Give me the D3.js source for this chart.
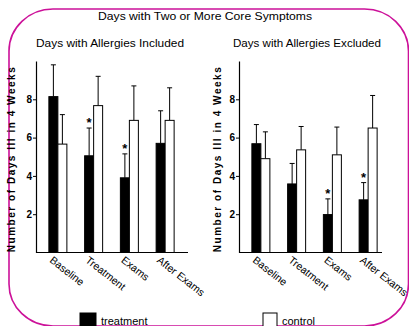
<!DOCTYPE html>
<html><head><meta charset="utf-8">
<script src="https://cdn.jsdelivr.net/npm/d3@7"></script>
<style>
body{margin:0;background:#fff;}
svg{display:block;font-family:"Liberation Sans",Arial,sans-serif;}
</style></head>
<body>
<svg id="chart" width="409" height="326"></svg>
<script>
const categories = ["Baseline", "Treatment", "Exams", "After Exams"];
const series = ["treatment", "control"];
// Days with allergies included
const incTreatment = [8.14, 5.05, 3.9, 5.7];
const incTreatmentSE = [1.66, 1.45, 1.25, 1.7];
const incControl = [5.66, 7.67, 6.9, 6.9];
const incControlSE = [1.54, 1.53, 1.8, 1.7];
const incSignificant = [false, true, true, false];
// Days with allergies excluded
const excTreatment = [5.68, 3.58, 1.98, 2.75];
const excTreatmentSE = [1.0, 1.07, 0.82, 0.9];
const excControl = [4.9, 5.36, 5.1, 6.5];
const excControlSE = [1.4, 1.22, 1.45, 1.7];
const excSignificant = [false, false, true, true];
const yTicks = [2, 4, 6, 8];
const title = "Days with Two or More Core Symptoms";
const subtitles = ["Days with Allergies Included", "Days with Allergies Excluded"];
const yLabel = "Number of Days Ill in 4 Weeks";

const svg = d3.select("#chart");
const magenta = "#cc1199";

svg.append("rect").attr("x", 9).attr("y", 9).attr("width", 399.5).attr("height", 317)
  .attr("rx", 44).attr("ry", 42).attr("fill", "none").attr("stroke", magenta).attr("stroke-width", 1.6);

svg.append("text").attr("x", 205).attr("y", 20).attr("text-anchor", "middle")
  .attr("font-size", 11).attr("textLength", 214).attr("lengthAdjust", "spacingAndGlyphs").text(title);

const y = d3.scaleLinear().domain([0, 10]).range([252.5, 61]);

const panels = [
  {axisX: 36, axisEnd: 188, range: [40, 183], sub: subtitles[0], subX: 110, labelX: 15,
   t: incTreatment, tse: incTreatmentSE, c: incControl, cse: incControlSE, sig: incSignificant},
  {axisX: 239, axisEnd: 382, range: [243, 386], sub: subtitles[1], subX: 307, labelX: 221,
   t: excTreatment, tse: excTreatmentSE, c: excControl, cse: excControlSE, sig: excSignificant}
];

panels.forEach(p => {
  const g = svg.append("g");
  g.append("text").attr("x", p.subX).attr("y", 47).attr("text-anchor", "middle")
    .attr("font-size", 11).attr("textLength", 148).attr("lengthAdjust", "spacingAndGlyphs").text(p.sub);

  const x0 = d3.scaleBand().domain(categories).range(p.range).padding(0);
  const x1 = d3.scaleBand().domain(series).range([-9, 9]).padding(0);
  const cx = c => x0(c) + x0.bandwidth() / 2;

  // y axis
  const ax = g.append("g").attr("transform", `translate(${p.axisX},0)`)
    .call(d3.axisLeft(y).tickValues(yTicks).tickSize(3).tickSizeOuter(0).tickPadding(1).tickFormat(d3.format("d")));
  ax.selectAll("text").attr("font-size", 10).attr("font-weight", "bold").attr("font-family", "Liberation Sans, Arial, sans-serif");
  ax.select(".domain").attr("stroke-width", 1.2);

  // x axis line
  g.append("line").attr("x1", p.axisX).attr("x2", p.axisEnd).attr("y1", y(0)).attr("y2", y(0))
    .attr("stroke", "#000").attr("stroke-width", 1.2);

  // y label
  g.append("text").attr("transform", `translate(${p.labelX},${(y(0) + y(10)) / 2 + 3}) rotate(-90)`)
    .attr("text-anchor", "middle").attr("font-size", 10).attr("font-weight", "bold")
    .attr("textLength", 185).attr("lengthAdjust", "spacing").text(yLabel);

  const rows = [];
  categories.forEach((c, i) => {
    rows.push({cat: c, s: "treatment", v: p.t[i], se: p.tse[i], sig: p.sig[i]});
    rows.push({cat: c, s: "control", v: p.c[i], se: p.cse[i], sig: false});
  });

  // error bars
  rows.forEach(r => {
    const bx = cx(r.cat) + x1(r.s) + x1.bandwidth() / 2;
    g.append("line").attr("x1", bx).attr("x2", bx).attr("y1", y(r.v)).attr("y2", y(r.v + r.se))
      .attr("stroke", "#000").attr("stroke-width", 1);
    g.append("line").attr("x1", bx - 2.5).attr("x2", bx + 2.5).attr("y1", y(r.v + r.se)).attr("y2", y(r.v + r.se))
      .attr("stroke", "#000").attr("stroke-width", 1);
    if (r.sig) {
      g.append("text").attr("x", bx).attr("y", y(r.v + r.se) - 1).attr("text-anchor", "middle")
        .attr("font-size", 13).attr("font-weight", "bold").text("*");
    }
  });

  // bars
  g.selectAll("rect.bar").data(rows).join("rect").attr("class", "bar")
    .attr("x", r => cx(r.cat) + x1(r.s))
    .attr("width", x1.bandwidth())
    .attr("y", r => y(r.v))
    .attr("height", r => y(0) - y(r.v))
    .attr("fill", r => r.s === "treatment" ? "#000" : "#fff")
    .attr("stroke", "#000").attr("stroke-width", 1);

  // category labels
  g.selectAll("text.cat").data(categories).join("text").attr("class", "cat")
    .attr("transform", c => `translate(${cx(c) - 9},${y(0) + 9}) rotate(38)`)
    .attr("font-size", 10.5).text(c => c);
});

// legend
const legend = [{s: "treatment", x: 80, fill: "#000", w: 16}, {s: "control", x: 263, fill: "#fff", w: 14}];
legend.forEach(l => {
  svg.append("rect").attr("x", l.x).attr("y", 313).attr("width", l.w).attr("height", l.w)
    .attr("fill", l.fill).attr("stroke", "#000").attr("stroke-width", 1);
  svg.append("text").attr("x", l.x + l.w + 5).attr("y", 325).attr("font-size", 11).text(l.s);
});
</script>
</body></html>
